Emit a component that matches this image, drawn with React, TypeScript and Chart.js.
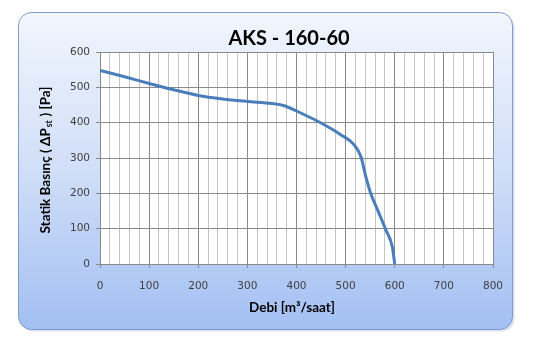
import React, { useEffect, useRef } from "react";
import { Chart, registerables } from "chart.js";

Chart.register(...registerables);

const chartTitle = "AKS - 160-60";
const xTitle = "Debi [m³/saat]";
const yTitleParts = ["Statik Basınç ( ΔP", "st", " ) [Pa]"];
const flowValues = [0, 50, 100, 150, 200, 250, 300, 350, 375, 400, 450, 490, 517, 531, 541, 551, 565, 582, 595, 600];
const pressureValues = [548, 530, 511, 493, 477, 467, 460, 454, 448, 433, 399, 366, 338, 304, 248, 200, 153, 96, 49, 0];
const xMax = 800;
const yMax = 600;

const panelPlugin = {
  id: "panel",
  beforeDraw(chart: any) {
    const ctx = chart.ctx as CanvasRenderingContext2D;
    const x = 18.5, y = 12.5, w = 494, h = 317, r = 13;
    ctx.save();
    ctx.fillStyle = "rgba(150,170,200,0.35)";
    ctx.beginPath();
    ctx.roundRect(x + 2, y + 2, w, h, r);
    ctx.fill();
    const g = ctx.createLinearGradient(0, y, 0, y + h);
    g.addColorStop(0, "#f2f6fd");
    g.addColorStop(0.5, "#d0def8");
    g.addColorStop(1, "#a3bff3");
    ctx.fillStyle = g;
    ctx.beginPath();
    ctx.roundRect(x, y, w, h, r);
    ctx.fill();
    ctx.strokeStyle = "#7f9bc8";
    ctx.lineWidth = 1;
    ctx.stroke();
    const a = chart.chartArea;
    ctx.fillStyle = "#ffffff";
    ctx.fillRect(a.left, a.top, a.right - a.left, a.bottom - a.top);
    ctx.restore();
  },
  afterDraw(chart: any) {
    const ctx = chart.ctx as CanvasRenderingContext2D;
    ctx.save();
    ctx.fillStyle = "#000000";
    ctx.textAlign = "center";
    ctx.textBaseline = "middle";
    ctx.font = "bold 20px Lato";
    ctx.fillText(chartTitle, 289, 39);
    ctx.font = "bold 13.5px Lato";
    ctx.fillText(xTitle, 292, 308);
    ctx.translate(46, 160);
    ctx.rotate(-Math.PI / 2);
    ctx.textAlign = "left";
    const bigFont = "bold 13.5px Lato";
    const smallFont = "bold 8.5px Lato";
    ctx.font = bigFont;
    const w1 = ctx.measureText(yTitleParts[0]).width;
    const w3 = ctx.measureText(yTitleParts[2]).width;
    ctx.font = smallFont;
    const w2 = ctx.measureText(yTitleParts[1]).width + 1.5;
    const total = w1 + w2 + w3;
    let cx = -total / 2;
    ctx.font = bigFont;
    ctx.fillText(yTitleParts[0], cx, 0);
    cx += w1;
    ctx.font = smallFont;
    ctx.fillText(yTitleParts[1], cx + 1, 3);
    cx += w2;
    ctx.font = bigFont;
    ctx.fillText(yTitleParts[2], cx, 0);
    ctx.restore();
  },
};

export default function App() {
  const ref = useRef<HTMLCanvasElement>(null);
  useEffect(() => {
    document.body.style.margin = "0";
    const chart = new Chart(ref.current as HTMLCanvasElement, {
      type: "line",
      data: {
        datasets: [
          {
            data: flowValues.map((x, i) => ({ x, y: pressureValues[i] })),
            borderColor: "#4a7ebb",
            borderWidth: 3,
            pointRadius: 0,
            cubicInterpolationMode: "monotone",
            fill: false,
          },
        ],
      },
      options: {
        animation: false,
        responsive: false,
        devicePixelRatio: 1,
        layout: { padding: { left: 0, top: 52, right: 40, bottom: 0 } },
        plugins: { legend: { display: false }, tooltip: { enabled: false }, title: { display: false } },
        scales: {
          x: {
            type: "linear",
            min: 0,
            max: xMax,
            afterFit: (s: any) => { s.height = 74; },
            ticks: {
              stepSize: 20,
              autoSkip: false,
              maxRotation: 0,
              padding: 12,
              color: "#404040",
              font: { family: "DejaVu Sans", size: 10.5 },
              callback: (v: any) => (Number(v) % 100 === 0 ? String(v) : ""),
            },
            grid: {
              color: (c: any) => (c.tick && c.tick.value % 100 === 0 ? "#8a8a8a" : "#c4c4c4"),
              tickColor: (c: any) => (c.tick && c.tick.value % 100 === 0 ? "#8a8a8a" : "rgba(0,0,0,0)"),
              tickLength: 4,
              lineWidth: 1,
            },
            border: { color: "#8a8a8a" },
          },
          y: {
            min: 0,
            max: yMax,
            afterFit: (s: any) => { s.width = 100; },
            ticks: {
              stepSize: 100,
              padding: 6,
              color: "#404040",
              font: { family: "DejaVu Sans", size: 10.5 },
            },
            grid: { color: "#8a8a8a", tickLength: 4, lineWidth: 1 },
            border: { color: "#8a8a8a" },
          },
        },
      },
      plugins: [panelPlugin],
    } as any);
    return () => chart.destroy();
  }, []);
  return (
    <div style={{ position: "relative", width: 533, height: 338 }}>
      <canvas ref={ref} width={533} height={338} style={{ display: "block", width: 533, height: 338 }} />
    </div>
  );
}
